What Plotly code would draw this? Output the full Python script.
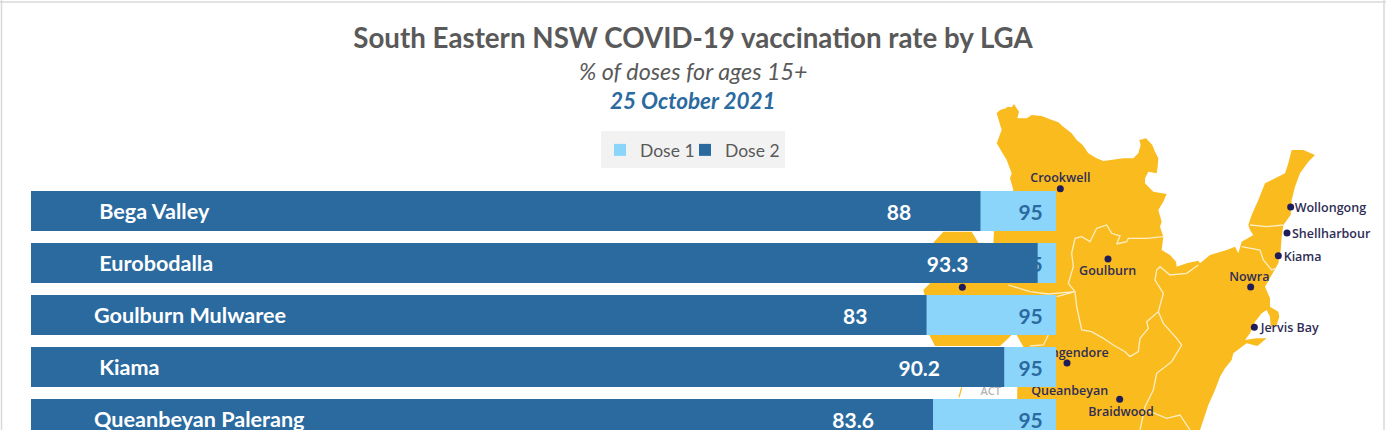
import plotly.graph_objects as go

# ---- chart data ----
lgas = ["Bega Valley", "Eurobodalla", "Goulburn Mulwaree", "Kiama", "Queanbeyan Palerang"]
dose1 = [95, 95, 95, 95, 95]
dose2 = [88, 93.3, 83, 90.2, 83.6]

# ---- map backdrop (traced outline) ----
outline_x = [290,300,318,322,335,342,350,357,352,380,395,425,450,475,490,515,530,548,565,590,610,640,670,700,715,722,718,738,757,765,775,773,770,745,735,735,760,800,790,775,785,780,790,785,810,828,830,860,895,900,930,980,1005,1015,1025,1060,1050,1045,1055,1075,1095,1115,1155,1165,1175,1210,1245,1225,1200,1185,1175,1172,1150,1145,1142,1135,1115,1095,1110,1110,1135,1138,1130,1112,1110,1100,1085,1065,1050,1035,1070,1100,1072,1040,1000,995,975,960,945,925,900,350,352,370,350,340,325,300,180,105,88,85,70,100,100,130,215,235,280,282,340,330,335,320,290,305,290]
outline_y = [70,60,55,50,52,42,55,65,85,85,75,78,88,97,110,130,150,165,190,205,213,208,205,205,190,165,150,145,165,185,205,230,250,245,265,280,305,312,335,360,395,410,440,480,495,515,530,520,512,520,495,480,470,490,455,435,420,405,375,330,280,270,250,220,180,180,195,215,250,290,330,375,405,440,480,520,555,590,625,650,665,680,705,712,680,660,670,695,730,750,745,745,768,760,790,810,835,860,900,945,1020,1020,890,770,735,730,745,768,768,768,735,660,600,570,458,425,425,458,460,425,300,265,250,210,160,120,70]
act_edge_x = [185,180,177]
act_edge_y = [893,908,922]
border_a_x = [790,740,685,680,650,660,635,620,590,570,545,525,515,520,505,525,530,545,575,610,640,675,690,715,720,745,740,775,790,765,770,780,810,860,895]
border_a_y = [440,445,445,455,462,438,430,405,415,455,440,445,490,530,580,605,650,720,725,745,765,785,800,785,745,715,695,665,610,570,540,530,555,550,525]
border_b_x = [775,790,830,845,815,770,760,735,720]
border_b_y = [665,700,745,765,815,850,900,950,1020]
border_c_x = [740,800,840,870]
border_c_y = [960,985,975,1020]
border_d_x = [325,390,445,525,470]
border_d_y = [585,605,612,605,620]
border_e_x = [445,430,390]
border_e_y = [735,765,768]
border_f_x = [1050,1100,1150]
border_f_y = [405,410,405]
border_g_x = [1025,1080,1090,1115,1125]
border_g_y = [470,480,510,540,535]
borders = [(border_a_x, border_a_y), (border_b_x, border_b_y), (border_c_x, border_c_y),
           (border_d_x, border_d_y), (border_e_x, border_e_y), (border_f_x, border_f_y),
           (border_g_x, border_g_y)]

town_x = [481,624,1172,1161,1135,1052,1063,187,501,659]
town_y = [296,507,351,429,497,591,712,592,819,928]

label_names = ["Crookwell","Goulburn","Nowra","Bungendore","Queanbeyan","Braidwood","Wollongong","Shellharbour","Kiama","Jervis Bay"]
label_x = [481,623,1048,515,509,663,1184,1176,1151,1082]
label_y = [268,547,563,791,905,970,358,434,505,717]
label_pos = ["middle center"]*6 + ["middle right"]*4

NAVY = "#2a6a9f"
SKY = "#8ad5f9"
GOLD = "#fabb1f"
GREY = "#595959"
W, H = 1386, 430
FONT = "Lato"

fig = go.Figure()

# map sits on the first subplot so the bars draw above it
fig.add_trace(go.Scatter(x=outline_x, y=outline_y, mode="lines", fill="toself", fillcolor=GOLD,
                         line=dict(color=GOLD, width=0), showlegend=False, hoverinfo="skip"))
fig.add_trace(go.Scatter(x=act_edge_x, y=act_edge_y, mode="lines", line=dict(color=GOLD, width=1.2),
                         showlegend=False, hoverinfo="skip"))
for bx, by in borders:
    fig.add_trace(go.Scatter(x=bx, y=by, mode="lines", line=dict(color="#fdeec4", width=1.3),
                             showlegend=False, hoverinfo="skip"))
fig.add_trace(go.Scatter(x=town_x, y=town_y, mode="markers", marker=dict(color="#1f1c5c", size=7),
                         showlegend=False, hoverinfo="skip"))
fig.add_trace(go.Scatter(x=label_x, y=label_y, mode="text", text=label_names, textposition=label_pos,
                         textfont=dict(family="Open Sans", size=12.5, color="#2f2d55", weight=600),
                         showlegend=False, hoverinfo="skip"))
fig.add_trace(go.Scatter(x=[272], y=[908], mode="text", text=["ACT"],
                         textfont=dict(family="Open Sans", size=11, color="#b5b5b5", weight=600),
                         showlegend=False, hoverinfo="skip"))

# bars
rows = list(range(len(lgas)))
dose2_pad = [13, 13, 11, 12, 11]
fig.add_trace(go.Bar(name="Dose 1", y=rows, x=dose1, orientation="h", width=40/52, xaxis="x2", yaxis="y2",
                     marker=dict(color=SKY, line_width=0), legend="legend",
                     text=[f"{v}\u00a0\u00a0" for v in dose1], textposition="inside", insidetextanchor="end",
                     textangle=0, constraintext="none", cliponaxis=True,
                     textfont=dict(family=FONT, size=21, color=NAVY, weight=700)))
fig.add_trace(go.Bar(name="Dose 2", y=rows, x=dose2, orientation="h", width=40/52, xaxis="x2", yaxis="y2",
                     marker=dict(color=NAVY, line_width=0), legend="legend2",
                     text=[f"{v}" + "\u00a0"*n for v, n in zip(dose2, dose2_pad)], textposition="inside",
                     insidetextanchor="end", textangle=0, constraintext="none",
                     textfont=dict(family=FONT, size=21, color="white", weight=700)))

name_pad = [1, 1, 0, 1, 0]
tick_text = ["\u00a0"*n + name for n, name in zip(name_pad, lgas)]
tick_vals = [r + 0.01 for r in rows]

legend_common = dict(y=1-150/H, yanchor="middle", xanchor="left", bgcolor="rgba(0,0,0,0)", itemclick=False,
                     font=dict(family=FONT, size=17.5, color=GREY))

fig.update_layout(
    width=W, height=H, autosize=False, margin=dict(l=0, r=0, t=0, b=0, autoexpand=False),
    paper_bgcolor="white", plot_bgcolor="rgba(0,0,0,0)", barmode="overlay",
    font=dict(family=FONT, color=GREY),
    showlegend=True,
    legend=dict(x=600/W, **legend_common),
    legend2=dict(x=685/W, **legend_common),
    title=dict(text="<b>South Eastern NSW COVID-19 vaccination rate by LGA</b>", x=0.5, xanchor="center",
               y=1-38/H, yanchor="middle", font=dict(family=FONT, size=27.7, color=GREY)),
    xaxis=dict(domain=[0, 1], range=[-2700, 1458], visible=False, fixedrange=True),
    yaxis=dict(domain=[0, 1], range=[1020, -270], visible=False, fixedrange=True),
    xaxis2=dict(domain=[31/W, 1056/W], range=[0, 95], anchor="y2", visible=False, fixedrange=True),
    yaxis2=dict(domain=[0, (H-185)/H], range=[(H-211)/52, -26/52], anchor="x2", fixedrange=True,
                tickmode="array", tickvals=tick_vals, ticktext=tick_text, ticks="", showline=False, showgrid=False,
                zeroline=False, ticklabelposition="inside", ticklabelstandoff=60, ticklabeloverflow="allow",
                tickfont=dict(family=FONT, size=21.6, color="white", weight=700)),
    annotations=[
        dict(text="<i>% of doses for ages 15+</i>", xref="paper", yref="paper", x=0.5, y=1-71/H, xanchor="center",
             yanchor="middle", showarrow=False, font=dict(family=FONT, size=23.3, color=GREY)),
        dict(text="<b><i>25 October 2021</i></b>", xref="paper", yref="paper", x=0.5, y=1-100.5/H, xanchor="center",
             yanchor="middle", showarrow=False, font=dict(family=FONT, size=22.5, color=NAVY)),
    ],
    shapes=[
        dict(type="rect", xref="paper", yref="paper", x0=601/W, x1=785/W, y0=1-168/H, y1=1-131/H,
             fillcolor="#f2f2f2", line_width=0, layer="below"),
        dict(type="line", xref="paper", yref="paper", x0=1.5/W, x1=1.5/W, y0=0, y1=1,
             line=dict(color="#d9d9d9", width=1.5)),
        dict(type="line", xref="paper", yref="paper", x0=1384/W, x1=1384/W, y0=0, y1=1,
             line=dict(color="#d9d9d9", width=1.5)),
        dict(type="line", xref="paper", yref="paper", x0=0, x1=1, y0=1-2/H, y1=1-2/H,
             line=dict(color="#d9d9d9", width=1.5)),
    ],
)

fig.write_html("out.html", config=dict(displayModeBar=False),
               post_script="document.body.style.margin='0';")
